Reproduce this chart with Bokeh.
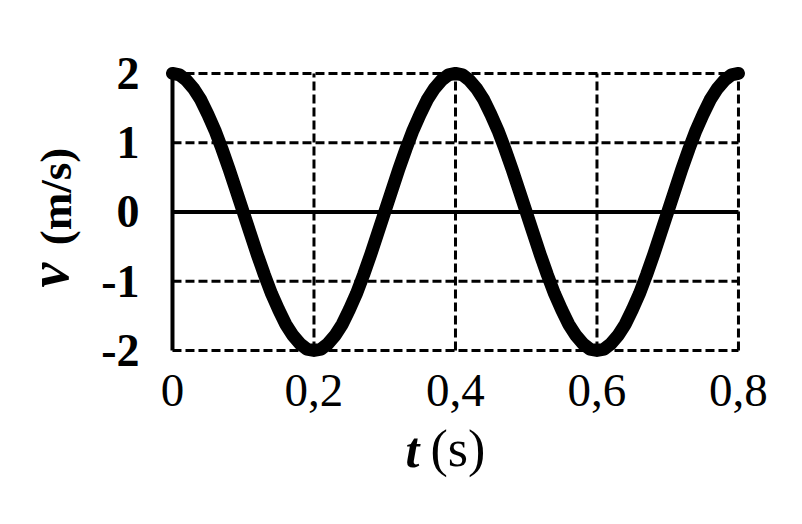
from bokeh.plotting import figure
from bokeh.models import Range1d, FixedTicker, Label, ColumnDataSource
from bokeh.embed import file_html
from bokeh.resources import INLINE

# ---- data ----
t = [0.00, 0.01, 0.02, 0.03, 0.04, 0.05, 0.06, 0.07, 0.08, 0.09,
     0.10, 0.11, 0.12, 0.13, 0.14, 0.15, 0.16, 0.17, 0.18, 0.19,
     0.20, 0.21, 0.22, 0.23, 0.24, 0.25, 0.26, 0.27, 0.28, 0.29,
     0.30, 0.31, 0.32, 0.33, 0.34, 0.35, 0.36, 0.37, 0.38, 0.39,
     0.40, 0.41, 0.42, 0.43, 0.44, 0.45, 0.46, 0.47, 0.48, 0.49,
     0.50, 0.51, 0.52, 0.53, 0.54, 0.55, 0.56, 0.57, 0.58, 0.59,
     0.60, 0.61, 0.62, 0.63, 0.64, 0.65, 0.66, 0.67, 0.68, 0.69,
     0.70, 0.71, 0.72, 0.73, 0.74, 0.75, 0.76, 0.77, 0.78, 0.79,
     0.80]
v = [2.00, 1.98, 1.90, 1.78, 1.62, 1.41, 1.18, 0.91, 0.62, 0.31,
     0.00, -0.31, -0.62, -0.91, -1.18, -1.41, -1.62, -1.78, -1.90, -1.98,
     -2.00, -1.98, -1.90, -1.78, -1.62, -1.41, -1.18, -0.91, -0.62, -0.31,
     0.00, 0.31, 0.62, 0.91, 1.18, 1.41, 1.62, 1.78, 1.90, 1.98,
     2.00, 1.98, 1.90, 1.78, 1.62, 1.41, 1.18, 0.91, 0.62, 0.31,
     0.00, -0.31, -0.62, -0.91, -1.18, -1.41, -1.62, -1.78, -1.90, -1.98,
     -2.00, -1.98, -1.90, -1.78, -1.62, -1.41, -1.18, -0.91, -0.62, -0.31,
     0.00, 0.31, 0.62, 0.91, 1.18, 1.41, 1.62, 1.78, 1.90, 1.98,
     2.00]

x_ticks = [0, 0.2, 0.4, 0.6, 0.8]
x_tick_labels = ["0", "0,2", "0,4", "0,6", "0,8"]
y_ticks = [-2, -1, 0, 1, 2]
y_tick_labels = ["-2", "-1", "0", "1", "2"]
x_grid = [0.2, 0.4, 0.6, 0.8]
y_grid = [-2, -1, 1, 2]
x_title = ["t", "(s)"]
y_title = ["v", "(m/s)"]

FONT = "Liberation Serif"

# the frame spans the whole canvas so that the axis titles are not clipped
p = figure(width=794, height=515,
           min_border_left=0, min_border_right=0,
           min_border_top=0, min_border_bottom=0,
           x_range=Range1d(-0.2431, 0.8792), y_range=Range1d(-4.383, 3.054),
           output_backend="svg", toolbar_location=None)
p.outline_line_color = None
p.xgrid.visible = False
p.ygrid.visible = False
p.background_fill_color = "white"
p.border_fill_color = "white"

xmin, xmax = x_ticks[0], x_ticks[-1]
ymin, ymax = y_ticks[0], y_ticks[-1]

# dashed grid
p.segment(x0=x_grid, y0=[ymin] * len(x_grid), x1=x_grid, y1=[ymax] * len(x_grid),
          line_color="black", line_width=3, line_dash="9 4")
p.segment(x0=[xmin] * len(y_grid), y0=y_grid, x1=[xmax] * len(y_grid), y1=y_grid,
          line_color="black", line_width=3, line_dash="9 4")
# zero line and left axis line
p.segment(x0=[xmin], y0=[0], x1=[xmax], y1=[0], line_color="black", line_width=4)
p.segment(x0=[xmin], y0=[ymin], x1=[xmin], y1=[ymax], line_color="black", line_width=4)

# curve
src = ColumnDataSource(dict(t=t, v=v))
p.line("t", "v", source=src, line_color="black", line_width=13,
       line_cap="round", line_join="round")

# axes, pinned at t = 0 and v = -2
for ax in (p.xaxis[0], p.yaxis[0]):
    ax.axis_line_color = None
    ax.major_tick_line_color = None
    ax.minor_tick_line_color = None
    ax.major_tick_out = 0
    ax.major_tick_in = 0
    ax.major_label_text_font = FONT
    ax.major_label_text_color = "black"

p.xaxis.fixed_location = ymin
p.xaxis.ticker = FixedTicker(ticks=x_ticks)
p.xaxis.major_label_overrides = {k: s for k, s in zip(x_ticks, x_tick_labels)}
p.xaxis.major_label_text_font_size = "47px"
p.xaxis.major_label_standoff = 25

p.yaxis.fixed_location = xmin
p.yaxis.ticker = FixedTicker(ticks=y_ticks)
p.yaxis.major_label_overrides = {k: s for k, s in zip(y_ticks, y_tick_labels)}
p.yaxis.major_label_text_font_size = "46px"
p.yaxis.major_label_text_font_style = "bold"
p.yaxis.major_label_standoff = 33

# axis titles (italic quantity symbol, upright unit)
p.add_layout(Label(x=-0.175, y=-1.09, text=y_title[0], angle=1.5708, text_align="left",
                   text_baseline="alphabetic", text_font=FONT, text_font_size="56px",
                   text_font_style="bold italic", text_color="black"))
p.add_layout(Label(x=-0.164, y=-0.48, text=y_title[1], angle=1.5708, text_align="left",
                   text_baseline="alphabetic", text_font=FONT, text_font_size="45px",
                   text_font_style="bold", text_color="black"))
p.add_layout(Label(x=0.3293, y=-3.433, text=x_title[0], text_align="left",
                   text_baseline="alphabetic", text_font=FONT, text_font_size="50px",
                   text_font_style="bold italic", text_color="black"))
p.add_layout(Label(x=0.3647, y=-3.42, text=x_title[1], text_align="left",
                   text_baseline="alphabetic", text_font=FONT, text_font_size="52px",
                   text_color="black"))

open("out.html", "w").write(file_html(p, INLINE))
